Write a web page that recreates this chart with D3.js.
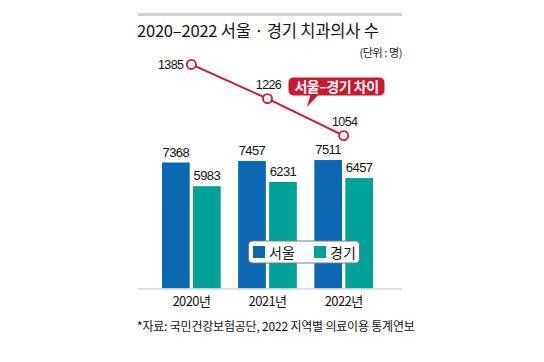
<!DOCTYPE html>
<html>
<head>
<meta charset="utf-8">
<script src="https://cdn.jsdelivr.net/npm/d3@7"></script>
<style>
  body { margin: 0; background: #fff; }
  text { font-family: "Noto Sans CJK KR", "Noto Sans", sans-serif; }
  .num { font-family: "Liberation Sans", Arial, sans-serif; }
</style>
</head>
<body>
<svg id="chart" width="544" height="362"></svg>
<script>
const years = ['2020년', '2021년', '2022년'];
const seoul = [7368, 7457, 7511];
const gyeonggi = [5983, 6231, 6457];
const gap = [1385, 1226, 1054];
const seriesNames = ['서울', '경기'];

const colors = { seoul: '#0b68b3', gyeonggi: '#00a198', line: '#c8192e' };

const svg = d3.select('#chart');

/* header */
svg.append('rect')
  .attr('x', 138).attr('y', 13).attr('width', 264).attr('height', 3)
  .attr('fill', '#cfcfcf');
svg.append('text')
  .attr('x', 137).attr('y', 37)
  .attr('font-size', 16.5).attr('font-weight', 400).attr('fill', '#111')
  .attr('letter-spacing', -0.2)
  .text('2020–2022 서울 · 경기 치과의사 수');
svg.append('text')
  .attr('x', 402).attr('y', 57)
  .attr('text-anchor', 'end')
  .attr('font-size', 11).attr('fill', '#222')
  .attr('letter-spacing', -0.4)
  .text('(단위 : 명)');

/* scales */
const x = d3.scaleBand().domain(years).range([162, 373]).paddingInner(0.229).paddingOuter(0);
const x1 = d3.scaleBand().domain(seriesNames).range([0, x.bandwidth()]).paddingInner(0.106);
const y = d3.scaleLinear().domain([0, 10000]).range([288.5, 117.5]);
const yGap = d3.scaleLinear().domain([1000, 1400]).range([147.3, 61.2]);

const rows = years.map((yr, i) => ({ yr, values: [seoul[i], gyeonggi[i]] }));

/* bars */
const groups = svg.append('g').selectAll('g')
  .data(rows)
  .join('g')
  .attr('transform', (d) => `translate(${x(d.yr)},0)`);

groups.selectAll('rect')
  .data((d) => d.values.map((v, k) => ({ name: seriesNames[k], v })))
  .join('rect')
  .attr('x', (d) => x1(d.name))
  .attr('y', (d) => y(d.v))
  .attr('width', x1.bandwidth())
  .attr('height', (d) => y(0) - y(d.v))
  .attr('fill', (d) => (d.name === '서울' ? colors.seoul : colors.gyeonggi));

groups.selectAll('text')
  .data((d) => d.values.map((v, k) => ({ name: seriesNames[k], v })))
  .join('text')
  .attr('class', 'num')
  .attr('x', (d) => x1(d.name) + x1.bandwidth() / 2)
  .attr('y', (d) => y(d.v) - 6)
  .attr('text-anchor', 'middle')
  .attr('font-size', 13).attr('fill', '#111')
  .attr('letter-spacing', -0.6)
  .text((d) => d.v);

/* baseline axis */
const axis = svg.append('g').attr('transform', `translate(0,${y(0)})`)
  .call(d3.axisBottom(x).tickSize(0).tickPadding(8));
axis.select('.domain').attr('d', 'M138,0.5H402').attr('stroke', '#d6d6d6').attr('stroke-width', 1.5);
axis.selectAll('text')
  .attr('font-size', 13).attr('fill', '#111')
  .attr('letter-spacing', -0.6)
  .style('font-family', '"Noto Sans CJK KR", sans-serif');

/* gap line */
const pts = years.map((yr, i) => [x(yr) + x.bandwidth() / 2, yGap(gap[i])]);
svg.append('path')
  .attr('d', d3.line()(pts))
  .attr('fill', 'none').attr('stroke', colors.line).attr('stroke-width', 2);
svg.append('g').selectAll('circle')
  .data(pts)
  .join('circle')
  .attr('cx', (d) => d[0]).attr('cy', (d) => d[1]).attr('r', 4.5)
  .attr('fill', '#fff').attr('stroke', colors.line).attr('stroke-width', 1.8);
svg.append('g').selectAll('text')
  .data(pts)
  .join('text')
  .attr('class', 'num')
  .attr('x', (d, i) => (i === 0 ? d[0] - 8 : d[0] + 1))
  .attr('y', (d, i) => (i === 0 ? d[1] + 4.5 : d[1] - 10))
  .attr('text-anchor', (d, i) => (i === 0 ? 'end' : 'middle'))
  .attr('font-size', 12.5).attr('fill', '#111')
  .attr('letter-spacing', -0.6)
  .text((d, i) => gap[i]);

/* callout */
const callout = svg.append('g');
callout.append('path')
  .attr('d', 'M311,93 L307,107 L320,93 Z')
  .attr('fill', colors.line);
callout.append('rect')
  .attr('x', 288.5).attr('y', 77.5).attr('width', 96).attr('height', 18).attr('rx', 5)
  .attr('fill', colors.line);
callout.append('text')
  .attr('x', 336.5).attr('y', 91.5)
  .attr('text-anchor', 'middle')
  .attr('font-size', 14).attr('font-weight', 700).attr('fill', '#fff')
  .attr('letter-spacing', -0.5)
  .text('서울–경기 차이');

/* legend */
const legend = svg.append('g');
legend.append('rect')
  .attr('x', 248.5).attr('y', 241).attr('width', 111).attr('height', 22).attr('rx', 4)
  .attr('fill', '#fff').attr('stroke', '#7a7a7a').attr('stroke-width', 1);
const li = legend.selectAll('g')
  .data(seriesNames)
  .join('g')
  .attr('transform', (d, i) => `translate(${253 + i * 61},246)`);
li.append('rect')
  .attr('width', 12).attr('height', 12)
  .attr('fill', (d) => (d === '서울' ? colors.seoul : colors.gyeonggi));
li.append('text')
  .attr('x', 16).attr('y', 11.5)
  .attr('font-size', 14).attr('fill', '#111')
  .text((d) => d);

/* source */
svg.append('text')
  .attr('x', 137).attr('y', 331)
  .attr('font-size', 12).attr('fill', '#111')
  .attr('letter-spacing', -0.2)
  .text('*자료: 국민건강보험공단, 2022 지역별 의료이용 통계연보');
</script>
</body>
</html>
